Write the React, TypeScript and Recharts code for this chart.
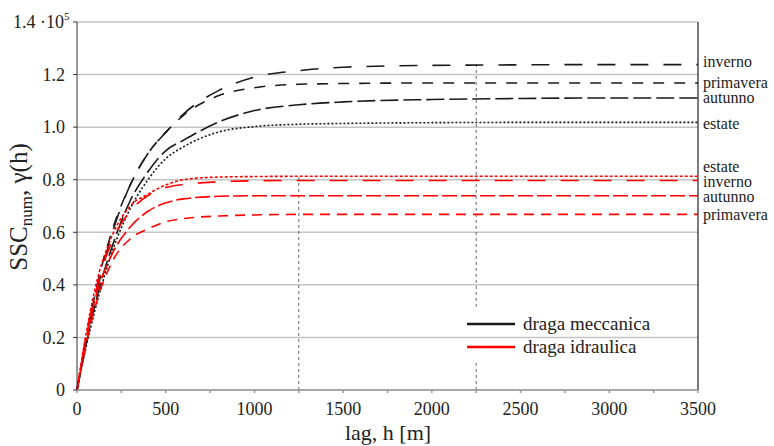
import React from "react";
import {
  LineChart,
  Line,
  XAxis,
  YAxis,
  CartesianGrid,
  ReferenceLine,
  Label,
} from "recharts";

// lag distances [m] at which the variogram curves were sampled
const lag = [0, 50, 100, 200, 300, 400, 500, 600, 800, 1000, 1250, 1500, 2000, 2500, 3000, 3500];

// draga meccanica (x 10^5)
const mecInverno = [0, 0.18, 0.34, 0.6, 0.78, 0.9, 0.98, 1.05, 1.14, 1.19, 1.215, 1.228, 1.235, 1.237, 1.238, 1.238];
const mecPrimavera = [0, 0.19, 0.36, 0.61, 0.78, 0.9, 0.98, 1.045, 1.12, 1.15, 1.163, 1.166, 1.168, 1.168, 1.168, 1.168];
const mecAutunno = [0, 0.17, 0.32, 0.55, 0.72, 0.83, 0.91, 0.95, 1.02, 1.063, 1.085, 1.096, 1.105, 1.109, 1.111, 1.111];
const mecEstate = [0, 0.16, 0.3, 0.53, 0.69, 0.8, 0.88, 0.925, 0.982, 1.002, 1.011, 1.014, 1.017, 1.018, 1.018, 1.018];

// draga idraulica (x 10^5)
const idrEstate = [0, 0.21, 0.38, 0.59, 0.7, 0.745, 0.78, 0.8, 0.81, 0.812, 0.813, 0.813, 0.813, 0.813, 0.813, 0.813];
const idrInverno = [0, 0.2, 0.36, 0.57, 0.68, 0.74, 0.77, 0.782, 0.792, 0.796, 0.797, 0.797, 0.797, 0.797, 0.797, 0.797];
const idrAutunno = [0, 0.19, 0.34, 0.52, 0.62, 0.68, 0.712, 0.727, 0.737, 0.739, 0.739, 0.739, 0.739, 0.739, 0.739, 0.739];
const idrPrimavera = [0, 0.17, 0.31, 0.49, 0.575, 0.613, 0.64, 0.652, 0.662, 0.666, 0.668, 0.668, 0.668, 0.668, 0.668, 0.668];

const xTicks = [0, 250, 500, 750, 1000, 1250, 1500, 1750, 2000, 2250, 2500, 2750, 3000, 3250, 3500];
const yTicks = [0, 0.2, 0.4, 0.6, 0.8, 1.0, 1.2, 1.4];

// range markers
const rangeIdraulica = 1250;
const rangeMeccanica = 2250;

const FONT = "'Times New Roman', 'Liberation Serif', serif";
const BLACK = "#1a1a1a";
const RED = "#ff0000";

const series = [
  { key: "mecInverno", values: mecInverno, name: "inverno", color: BLACK, dash: "18 15", dy: -3 },
  { key: "mecPrimavera", values: mecPrimavera, name: "primavera", color: BLACK, dash: "11 10", dy: 0 },
  { key: "mecAutunno", values: mecAutunno, name: "autunno", color: BLACK, dash: "18 5", dy: 0 },
  { key: "mecEstate", values: mecEstate, name: "estate", color: BLACK, dash: "2 2", dy: 1 },
  { key: "idrEstate", values: idrEstate, name: "estate", color: RED, dash: "3 2", dy: -10 },
  { key: "idrInverno", values: idrInverno, name: "inverno", color: RED, dash: "18 15", dy: 1 },
  { key: "idrAutunno", values: idrAutunno, name: "autunno", color: RED, dash: "15 4", dy: 1 },
  { key: "idrPrimavera", values: idrPrimavera, name: "primavera", color: RED, dash: "10 7", dy: 0 },
];

const data = lag.map((h, i) => {
  const row: Record<string, number> = { lag: h };
  series.forEach((s) => {
    row[s.key] = s.values[i];
  });
  return row;
});

const endLabel = (text: string, dy: number) => (props: any) => {
  const { x, y, index } = props;
  if (index !== lag.length - 1) return <g />;
  return (
    <text x={x + 5} y={y + dy} dy="0.33em" fontSize={16} fontFamily={FONT} fill="#222">
      {text}
    </text>
  );
};

const YTick = (props: any) => {
  const { x, y, payload } = props;
  const v = payload.value;
  if (Math.abs(v - 1.4) < 1e-6) {
    return (
      <text x={13} y={y} dy="0.35em" fontSize={18} fontFamily={FONT} fill="#222">
        1.4 ·10
        <tspan fontSize={11} dy={-8}>5</tspan>
      </text>
    );
  }
  return (
    <text x={x} y={y} dy="0.35em" textAnchor="end" fontSize={18} fontFamily={FONT} fill="#222">
      {v === 0 ? "0" : v.toFixed(1)}
    </text>
  );
};

const YTitle = () => (
  <text transform="rotate(-90)" x={-207} y={27} textAnchor="middle" fontSize={25} fontFamily={FONT} fill="#222">
    SSC
    <tspan fontSize={17} dy={5}>num</tspan>
    <tspan dy={-5}>, γ(h)</tspan>
  </text>
);

const XTitle = () => (
  <text x={388} y={440} textAnchor="middle" fontSize={22} fontFamily={FONT} fill="#222">
    lag, h [m]
  </text>
);

const legendItems = [
  { label: "draga meccanica", color: BLACK },
  { label: "draga idraulica", color: RED },
];

export default function App() {
  return (
    <div style={{ position: "absolute", left: 0, top: 0, width: 774, height: 446, background: "#fff" }}>
      <LineChart width={774} height={446} data={data} margin={{ top: 22, right: 76, bottom: 26, left: 17 }}>
        <CartesianGrid vertical={false} stroke="#c4c4c4" strokeWidth={1.5} />
        <XAxis
          type="number"
          dataKey="lag"
          domain={[0, 3500]}
          ticks={xTicks}
          interval={0}
          tickFormatter={(v: number) => (v % 500 === 0 ? String(v) : "")}
          tick={{ fontSize: 18, fontFamily: FONT, fill: "#222" }}
          tickSize={3}
          tickMargin={9}
          height={30}
          stroke="#999"
          strokeWidth={1.5}
        >
          <Label content={XTitle} />
        </XAxis>
        <YAxis
          type="number"
          domain={[0, 1.4]}
          ticks={yTicks}
          interval={0}
          tick={YTick}
          tickSize={4}
          tickMargin={8}
          width={60}
          stroke="#333"
        >
          <Label content={YTitle} />
        </YAxis>
        <ReferenceLine x={3500} stroke="#222" strokeWidth={1.2} />
        <ReferenceLine
          segment={[
            { x: rangeIdraulica, y: 0 },
            { x: rangeIdraulica, y: idrEstate[idrEstate.length - 1] },
          ]}
          stroke="#666"
          strokeDasharray="3 3"
        />
        <ReferenceLine
          segment={[
            { x: rangeMeccanica, y: 0 },
            { x: rangeMeccanica, y: 0.107 },
          ]}
          stroke="#666"
          strokeDasharray="3 3"
        />
        <ReferenceLine
          segment={[
            { x: rangeMeccanica, y: 0.316 },
            { x: rangeMeccanica, y: mecInverno[mecInverno.length - 1] },
          ]}
          stroke="#666"
          strokeDasharray="3 3"
        />
        {series.map((s) => (
          <Line
            key={s.key}
            type="monotone"
            dataKey={s.key}
            stroke={s.color}
            strokeWidth={1.6}
            strokeDasharray={s.dash}
            dot={false}
            isAnimationActive={false}
            label={endLabel(s.name, s.dy)}
          />
        ))}
      </LineChart>
      <div style={{ position: "absolute", left: 467, top: 312, fontFamily: FONT, fontSize: 19, color: "#222" }}>
        {legendItems.map((item) => (
          <div key={item.label} style={{ display: "flex", alignItems: "center", height: 23 }}>
            <svg width={48} height={4} style={{ marginRight: 8 }}>
              <line x1={0} y1={2} x2={48} y2={2} stroke={item.color} strokeWidth={2.5} />
            </svg>
            <span>{item.label}</span>
          </div>
        ))}
      </div>
    </div>
  );
}
